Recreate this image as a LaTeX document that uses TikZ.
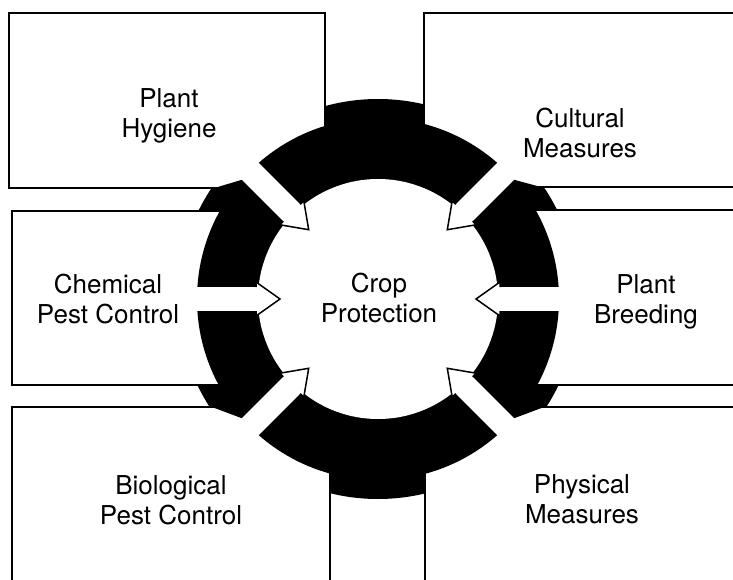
\documentclass[tikz,border=0pt]{standalone}
\usepackage{fontspec}
\setmainfont{TeX Gyre Heros}
\begin{document}
\begin{tikzpicture}[x=1pt,y=-1pt,
  boxline/.style={draw=black,line width=1.7pt,fill=white},
  lbl/.style={font=\fontsize{26}{30}\selectfont,align=center,inner sep=0pt},
  headline/.style={draw=black,line width=1.5pt,line join=miter}]
\useasboundingbox (0,0) rectangle (733,580);
\clip (0,0) rectangle (733,580);
\coordinate (c) at (378,299);
% boxes
\draw[boxline] (9,13) rectangle (325,188);
\draw[boxline] (424,13) rectangle (745,187);
\draw[boxline] (12,211) rectangle (240,385);
\draw[boxline] (516,210) rectangle (745,385);
\draw[boxline] (12,407) rectangle (330,595);
\draw[boxline] (425,407) rectangle (745,595);
% black ring
\fill[black] (c) circle[radius=181pt];
% black tabs in the gaps between boxes
\begin{scope}\clip (325.9,0) rectangle (423.1,299);\fill[black] (c) circle[radius=200pt];\end{scope}
\begin{scope}\clip (330.9,299) rectangle (424.1,600);\fill[black] (c) circle[radius=200pt];\end{scope}
\begin{scope}\clip (0,188.9) rectangle (378,210.1);\fill[black] (c) circle[radius=200pt];\end{scope}
\begin{scope}\clip (0,385.9) rectangle (378,406.1);\fill[black] (c) circle[radius=200pt];\end{scope}
\begin{scope}\clip (378,187.9) rectangle (740,209.1);\fill[black] (c) circle[radius=200pt];\end{scope}
\begin{scope}\clip (378,385.9) rectangle (740,406.1);\fill[black] (c) circle[radius=200pt];\end{scope}
% wedges
\fill[black] (211,189) -- (241.8,179.8) -- (254,189) -- cycle;
\fill[black] (544.6,188) -- (514.2,179.8) -- (502,188) -- cycle;
\fill[black] (209.7,406.2) -- (241.8,418.2) -- (254,406.2) -- cycle;
\fill[black] (546.3,406.2) -- (514.2,418.2) -- (502,406.2) -- cycle;
% white shafts
\foreach \a in {0,45,135,180,225,315}{
  \begin{scope}[shift={(c)},rotate=\a]
    \fill[white] (100,-12) rectangle (215,12);
  \end{scope}}
% inner disk
\fill[white] (c) circle[radius=120pt];
% arrow heads
\foreach \a in {0,45,135,180,225,315}{
  \begin{scope}[shift={(c)},rotate=\a]
    \fill[white] (122,17) -- (98,0) -- (122,-17) -- cycle;
    \draw[headline] (122,12) -- (122,17) -- (98,0) -- (122,-17) -- (122,-12);
  \end{scope}}
% labels
\node[lbl] (hyg) at (169,116) {Plant\\Hygiene};
\node[lbl] (cul) at (580,133) {Cultural\\Measures};
\node[lbl] (chem) at (108,299) {Chemical\\Pest Control};
\node[lbl] (bree) at (646,302) {Plant\\Breeding};
\node[lbl] (bio) at (171,500) {Biological\\Pest Control};
\node[lbl] (phy) at (582,499) {Physical\\Measures};
\node[lbl] (crop) at (379,298) {Crop\\Protection};
\end{tikzpicture}
\end{document}
